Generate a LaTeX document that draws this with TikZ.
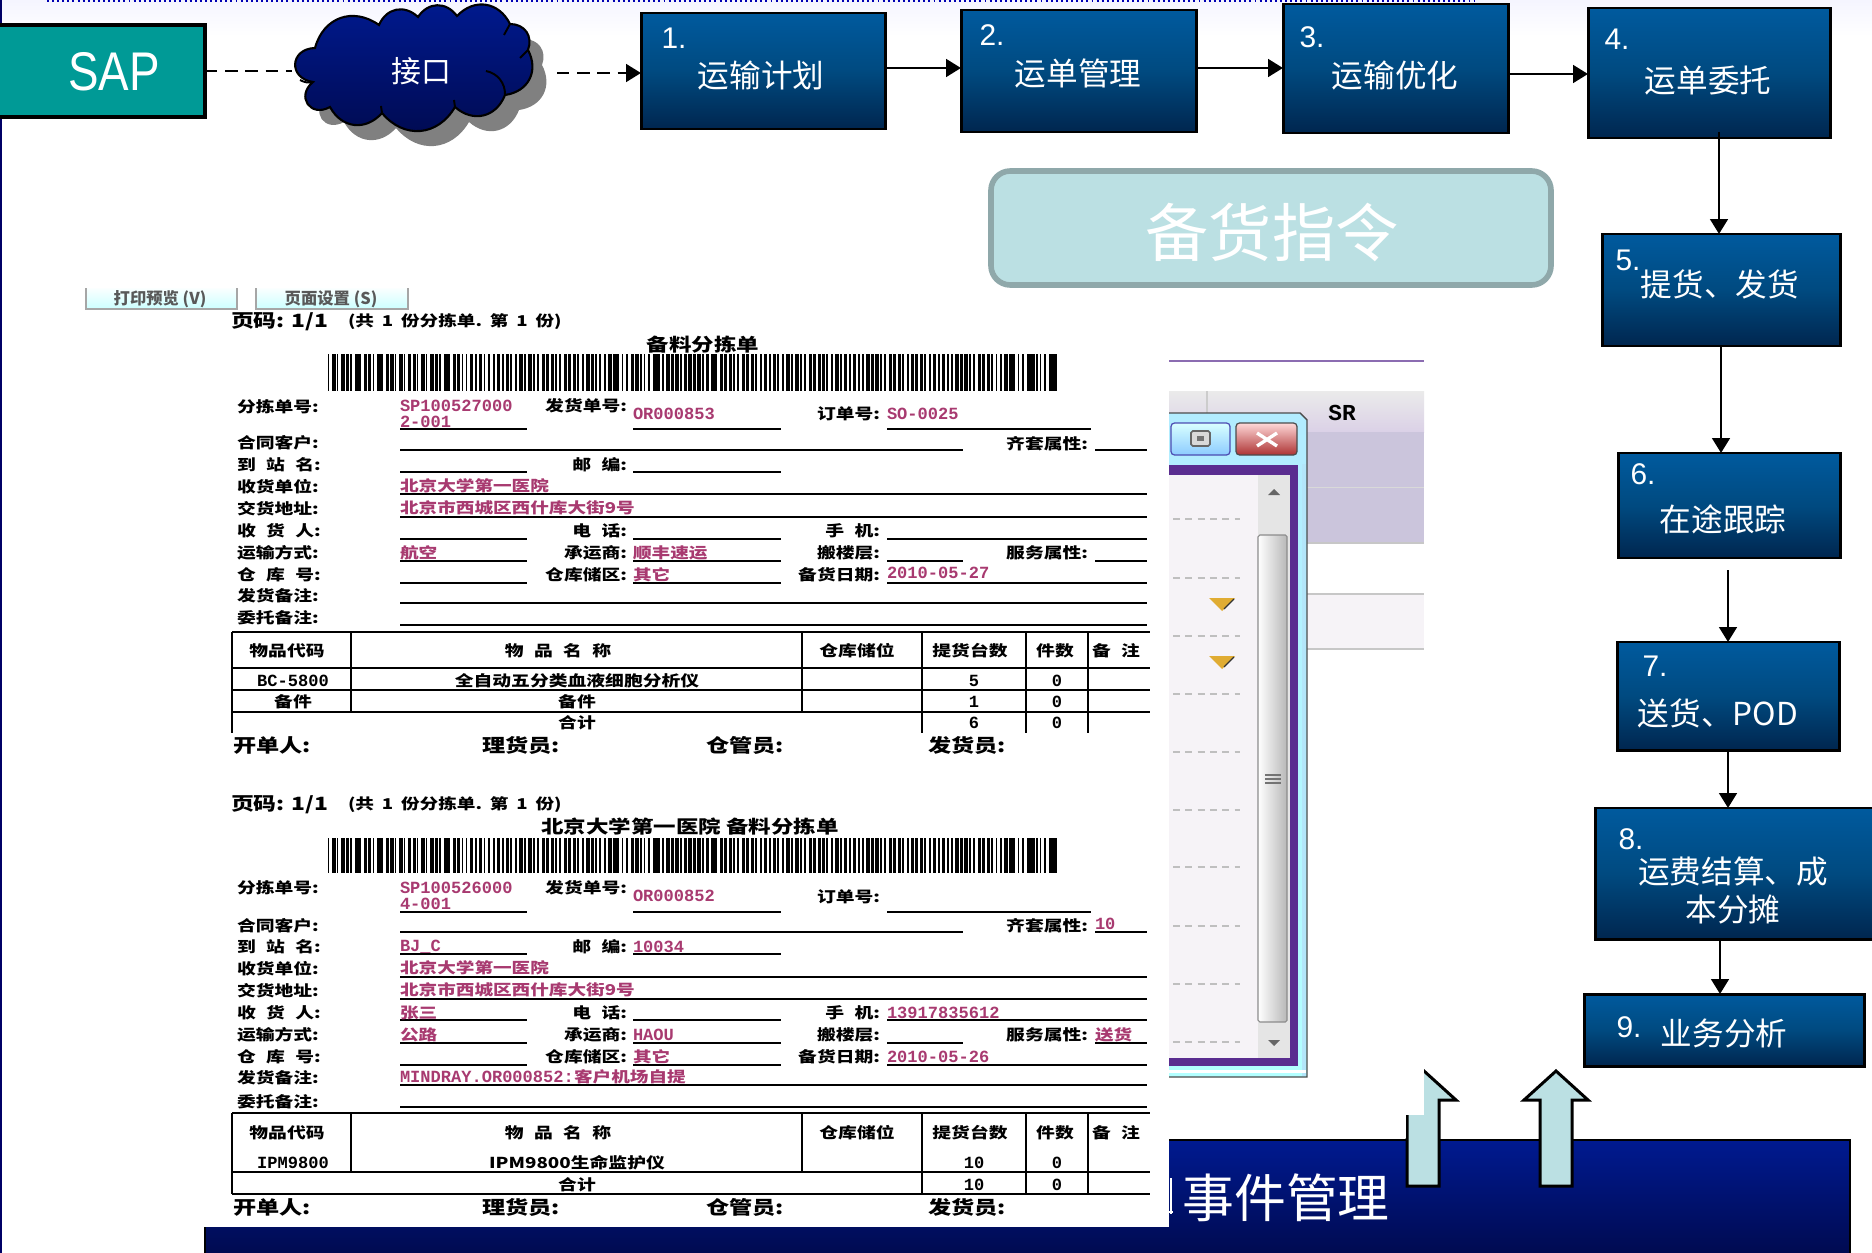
\documentclass[tikz,border=0pt]{standalone}
\usepackage{fontspec}
\usepackage{graphicx}
\setmainfont{Noto Sans CJK SC}
\newfontfamily\latf{Liberation Sans}
\newfontfamily\monof{Liberation Mono}
\usetikzlibrary{arrows.meta}
\definecolor{boxT}{HTML}{005A9E}
\definecolor{boxM}{HTML}{004A80}
\definecolor{boxB}{HTML}{00264F}
\definecolor{navT}{HTML}{001A90}
\definecolor{navB}{HTML}{000A50}
\definecolor{teal1}{HTML}{009A96}
\definecolor{pale}{HTML}{BBE0E3}
\definecolor{paleB}{HTML}{8FA8AA}
\definecolor{valc}{HTML}{A83A70}
\definecolor{lav}{HTML}{CBC5DC}
\definecolor{pan}{HTML}{F6F3F7}
\definecolor{purp}{HTML}{5A2D90}
\newcount\tnum
\newcommand\ksp{\hspace{.55em}}
\newcommand\hsp{\hspace{.42em}}
\newcommand\fntB{\fontsize{18pt}{20pt}\selectfont}
\newcommand\fntN{\latf\fontsize{17pt}{20pt}\selectfont}
\newcommand\fntL{\fontsize{10.7pt}{11pt}\selectfont\bfseries}
\newcommand\fntV{\fontsize{10.6pt}{11pt}\selectfont\bfseries}
\newcommand\fntM{\monof\fontsize{9.7pt}{11pt}\selectfont\bfseries}
\newcommand\fntS{\fontsize{13pt}{14pt}\selectfont\bfseries}
\newcommand\fntT{\fontsize{10.6pt}{12pt}\selectfont\bfseries}
\newcommand\squash[1]{\scalebox{1}[.8]{#1}}
\newcommand\tput[4][]{\global\advance\tnum by 1\relax\node[txt,#1] (t\the\tnum) at (#2,#3) {#4};}
\newcommand\pbox[6][fancy]{\pgfmathsetmacro\wid{(#5-#3-2)*0.02}\pgfmathsetmacro\hei{(#6-#4-2)*0.02}\node[#1,minimum width=\wid cm,minimum height=\hei cm] (#2) at ({(#3+#5)/2},{(#4+#6)/2}) {};}
\newcommand\lblW[3]{\tput[anchor=west,font=\fntL]{#1}{#2}{\squash{#3}}}
\newcommand\lblE[3]{\tput[anchor=east,font=\fntL]{#1}{#2}{\squash{#3}}}
\newcommand\valC[3]{\tput[anchor=west,font=\fntV,text=valc]{#1}{#2}{\squash{#3}}}
\newcommand\valM[3]{\tput[anchor=west,font=\fntM,text=valc]{#1}{#2}{#3}}
\newcommand\cellC[3]{\tput[font=\fntL]{#1}{#2}{\squash{#3}}}
\newcommand\cellM[3]{\tput[font=\fntM]{#1}{#2}{#3}}
\newcommand\uline[3]{\draw[rule] (#2,#1) -- (#3,#1);}
\newcommand\barcode[2]{\foreach \i in {0,...,163}{\pgfmathsetmacro\w{1.4+0.62*mod(mod(\i,37)*mod(\i,29)+3*\i,5)}\fill[black] ({328+4.45*\i},#1) rectangle ({328+4.45*\i+\w},#2);}}
\tikzset{
 txt/.style={inner sep=0pt,outer sep=0pt,text=black},
 fancy/.style={draw=black,line width=1.7pt,top color=boxT,bottom color=boxB,middle color=boxM,inner sep=0pt,outer sep=0pt},
 wl/.style={text=white,font=\fntB},
 wn/.style={text=white,font=\fntN},
 flow/.style={draw=black,line width=1.6pt,-{Triangle[length=8.5pt,width=10pt]}},
 dflow/.style={flow,dash pattern=on 7pt off 4.5pt},
 rule/.style={draw=black,line width=.95pt},
 tb/.style={draw=black,line width=1.05pt},
 uparrow/.style={draw=black,line width=1.7pt,fill=pale,line join=miter},
 cloudb/.style={bend left=55,looseness=1.2},
 cloudw/.style={bend left=85,looseness=1.9},
}
\newcommand\cloudpath{(315,48) to[cloudb] (379,25) to[cloudb] (418,17) to[cloudb] (457,16) to[cloudb] (510,24) to[cloudb] (528,50) to[cloudb] (505,95) to[cloudb] (455,107) to[cloudb] (382,113) to[cloudb] (330,107) to[cloudw] (313,82) to[cloudw] (315,48) -- cycle}
\begin{document}
\begin{tikzpicture}[x=0.02cm,y=-0.02cm]
\useasboundingbox (0,0) rectangle (1872,1253);
\begin{scope}
\clip (0,0) rectangle (1872,1253);
\fill[white] (0,0) rectangle (1872,1253);
\shade[top color=blue!4,bottom color=white] (0,0) rectangle (1872,36);
\draw[blue!70!black,line width=1.2pt,dash pattern=on 1.1pt off 1.8pt] (47,.8) -- (1475,.8);
\fill[black!20!blue!50!black] (0,0) rectangle (2.2,1253);

% event bar
\pbox[draw=black,line width=1.2pt,top color=navT,bottom color=navB,inner sep=0pt,outer sep=0pt]{evbar}{204}{1139}{1851}{1256}
\tput[text=white,font=\fontsize{29.5pt}{32pt}\selectfont]{1286}{1198}{事件管理}
\draw[white,line width=1.4pt] (1171,1178) -- (1171,1214) (1169,1212) -- (1173,1212);

% up arrows
\draw[uparrow] (1407,1186) -- (1407,1100) -- (1391,1100) -- (1424,1071) -- (1456,1100) -- (1439,1100) -- (1439,1186) -- cycle;
\draw[uparrow] (1540,1186) -- (1540,1100) -- (1524,1100) -- (1556,1071) -- (1588,1100) -- (1572,1100) -- (1572,1186) -- cycle;
\fill[white] (1309,1060) rectangle (1424,1115);
\fill[white] (1309,1115) rectangle (1406,1138);

% purple table behind window
\draw[draw=purp!70!white,line width=1.2pt] (1169,361) -- (1424,361);
\shade[top color=black!8!white,bottom color=purp!22!white] (1169,391) rectangle (1424,432);
\draw[black!20,line width=.8pt] (1207,391) -- (1207,432);
\fill[lav] (1169,432) rectangle (1424,543);
\draw[white!85!black,line width=.5pt] (1169,487) -- (1424,487);
\fill[white] (1169,543) rectangle (1424,594);
\fill[pan] (1169,594) rectangle (1424,649);
\draw[black!22,line width=.8pt] (1169,543) -- (1424,543) (1169,594) -- (1424,594) (1169,649) -- (1424,649);
\tput[font=\monof\bfseries\fontsize{13pt}{14pt}\selectfont]{1342}{413}{SR}

% window
\shade[top color=blue!25!cyan!30!white,bottom color=cyan!30!white,draw=black!70,line width=.8pt] (1150,413) -- (1300,413) -- (1307,420) -- (1307,1077) -- (1150,1077) -- cycle;
\fill[white!70!cyan] (1302,464) rectangle (1306,1076);
\fill[white] (1150,1070) rectangle (1306,1073);
\fill[purp] (1150,465) rectangle (1298,1066);
\fill[pan] (1150,475) rectangle (1290,1058);
\fill[white!90!black] (1258,475) rectangle (1290,1058);
\shade[left color=white,right color=black!28,draw=black!45,line width=.6pt,rounded corners=1pt] (1258,535) rectangle (1287,1022);
\draw[black!55,line width=.8pt] (1265,775) -- (1281,775) (1265,779) -- (1281,779) (1265,783) -- (1281,783);
\fill[black!60] (1268,495) -- (1274,489) -- (1280,495) -- cycle;
\fill[black!60] (1268,1040) -- (1274,1046) -- (1280,1040) -- cycle;
\foreach \yy in {519,578,636,694,752,810,867,926,984,1042}{\draw[black!25,line width=.8pt,dash pattern=on 4pt off 3pt] (1173,\yy) -- (1240,\yy);}
\foreach \yy in {598,656}{\fill[orange!60!yellow!85!black!80] (1209,\yy) -- (1235,\yy) -- (1222,\yy+13) -- cycle;\draw[black!80,line width=.7pt] (1224,\yy+11) -- (1234,\yy+1);}
\shade[top color=cyan!15!white,bottom color=blue!45!cyan!45!white,draw=blue!40!gray,line width=.7pt,rounded corners=2pt] (1171,423) rectangle (1230,455);
\draw[black!60,fill=black!15,line width=.9pt,rounded corners=1pt] (1191,431) rectangle (1210,446);
\fill[black!55] (1197,436) rectangle (1204,441);
\shade[top color=red!15!white,middle color=red!65!black,bottom color=red!60!black!80,draw=black!70,line width=.7pt,rounded corners=2pt] (1236,423) rectangle (1297,455);
\draw[white,line width=1.9pt] (1257,433) -- (1277,446) (1257,446) -- (1277,433);

% white paper
\fill[white] (200,288) rectangle (1169,1227);

% buttons
\pbox[draw=black!35,line width=.8pt,top color=white,bottom color=cyan!20!white,inner sep=0pt,outer sep=0pt]{pb1}{85}{285}{238}{310}
\pbox[draw=black!35,line width=.8pt,top color=white,bottom color=cyan!20!white,inner sep=0pt,outer sep=0pt]{pb2}{255}{285}{409}{310}
\fill[white] (80,282) rectangle (415,288);
\tput[text=black!65,font=\fontsize{9.3pt}{10pt}\selectfont\bfseries]{160}{299}{打印预览 (V)}
\tput[text=black!65,font=\fontsize{9.3pt}{10pt}\selectfont\bfseries]{331}{299}{页面设置 (S)}

% ---------- document 1
\tput[anchor=west,font=\fntS]{231}{322}{\squash{页码: 1/1}}
\tput[anchor=west,font=\fntT]{348}{322}{\squash{(共\hsp 1\hsp 份分拣单.\hsp 第\hsp 1\hsp 份)}}
\tput[font=\fontsize{12.8pt}{14pt}\selectfont\bfseries]{703}{345}{\squash{备料分拣单}}
\barcode{354}{391}
\foreach \a/\b/\c in {429/400/527,429/633/781,429/887/1091,450/400/963,450/1095/1147,472/400/527,472/633/781,494/400/1147,517/400/1147,539/400/527,539/633/781,539/887/1147,561/400/527,561/633/781,561/887/963,561/1095/1147,583/400/527,583/633/781,583/887/1147,603/400/1147,625/400/1147}{\uline{\a}{\b}{\c}}
\lblW{237}{407}{分拣单号:}\lblW{237}{443}{合同客户:}\lblW{237}{465}{到\ksp 站\ksp 名:}\lblW{237}{487}{收货单位:}\lblW{237}{509}{交货地址:}\lblW{237}{531}{收\ksp 货\ksp 人:}\lblW{237}{553}{运输方式:}\lblW{237}{575}{仓\ksp 库\ksp 号:}\lblW{237}{596}{发货备注:}\lblW{237}{618}{委托备注:}
\lblE{627}{406}{发货单号:}\lblE{627}{465}{邮\ksp 编:}\lblE{627}{531}{电\ksp 话:}\lblE{627}{553}{承运商:}\lblE{627}{575}{仓库储区:}
\lblE{880}{414}{订单号:}\lblE{880}{531}{手\ksp 机:}\lblE{880}{553}{搬楼层:}\lblE{880}{575}{备货日期:}
\lblE{1088}{444}{齐套属性:}\lblE{1088}{553}{服务属性:}
\valM{400}{406}{SP100527000}\valM{400}{422}{2-001}\valM{633}{414}{OR000853}\valM{887}{414}{SO-0025}
\valC{400}{486}{北京大学第一医院}\valC{400}{508}{北京市西城区西什库大街9号}\valC{400}{553}{航空}\valC{633}{553}{顺丰速运}\valC{633}{575}{其它}\valM{887}{573}{2010-05-27}
% table 1
\draw[tb] (232,632) -- (1150,632) (232,668) -- (1150,668) (232,690) -- (1150,690) (232,712) -- (1150,712);
\draw[tb] (232,632) -- (232,733) (351,632) -- (351,712) (802,632) -- (802,712) (922,632) -- (922,733) (1026,632) -- (1026,733) (1088,632) -- (1088,733);
\cellC{287}{651}{物品代码}\cellC{558}{651}{物\ksp 品\ksp 名\ksp 称}\cellC{857}{651}{仓库储位}\cellC{970}{651}{提货台数}\cellC{1055}{651}{件数}\cellC{1116}{651}{备\ksp 注}
\cellM{293}{681}{BC-5800}\cellC{577}{681}{全自动五分类血液细胞分析仪}\cellM{974}{681}{5}\cellM{1057}{681}{0}
\cellC{293}{702}{备件}\cellC{577}{702}{备件}\cellM{974}{702}{1}\cellM{1057}{702}{0}
\cellC{577}{723}{合计}\cellM{974}{723}{6}\cellM{1057}{723}{0}
\foreach \xx/\ss in {233/开单人:,482/理货员:,706/仓管员:,928/发货员:}{\tput[anchor=west,font=\fontsize{13.2pt}{14pt}\selectfont\bfseries]{\xx}{745}{\squash{\ss}}}

% ---------- document 2
\tput[anchor=west,font=\fntS]{231}{805}{\squash{页码: 1/1}}
\tput[anchor=west,font=\fntT]{348}{805}{\squash{(共\hsp 1\hsp 份分拣单.\hsp 第\hsp 1\hsp 份)}}
\tput[font=\fontsize{12.8pt}{14pt}\selectfont\bfseries]{690}{827}{\squash{北京大学第一医院 备料分拣单}}
\barcode{838}{873}
\foreach \a/\b/\c in {912/400/527,912/633/781,912/887/1091,932/400/963,932/1095/1147,954/400/527,954/633/781,977/400/1147,999/400/1147,1020/400/527,1020/633/781,1020/887/1147,1043/400/527,1043/633/781,1043/887/963,1043/1095/1147,1065/400/527,1065/633/781,1065/887/1147,1085/400/1147,1107/400/1147}{\uline{\a}{\b}{\c}}
\lblW{237}{888}{分拣单号:}\lblW{237}{926}{合同客户:}\lblW{237}{947}{到\ksp 站\ksp 名:}\lblW{237}{969}{收货单位:}\lblW{237}{991}{交货地址:}\lblW{237}{1013}{收\ksp 货\ksp 人:}\lblW{237}{1035}{运输方式:}\lblW{237}{1057}{仓\ksp 库\ksp 号:}\lblW{237}{1078}{发货备注:}\lblW{237}{1102}{委托备注:}
\lblE{627}{888}{发货单号:}\lblE{627}{947}{邮\ksp 编:}\lblE{627}{1013}{电\ksp 话:}\lblE{627}{1035}{承运商:}\lblE{627}{1057}{仓库储区:}
\lblE{880}{897}{订单号:}\lblE{880}{1013}{手\ksp 机:}\lblE{880}{1035}{搬楼层:}\lblE{880}{1057}{备货日期:}
\lblE{1088}{926}{齐套属性:}\lblE{1088}{1035}{服务属性:}
\valM{400}{888}{SP100526000}\valM{400}{904}{4-001}\valM{633}{896}{OR000852}\valM{1095}{924}{10}
\valM{400}{947}{BJ\_C}\valM{633}{947}{10034}
\valC{400}{968}{北京大学第一医院}\valC{400}{990}{北京市西城区西什库大街9号}\valC{400}{1013}{张三}\valM{887}{1013}{13917835612}
\valC{400}{1035}{公路}\valM{633}{1035}{HAOU}\valC{1095}{1035}{送货}\valC{633}{1057}{其它}\valM{887}{1057}{2010-05-26}
\valM{400}{1077}{MINDRAY.OR000852:}\valC{574}{1077}{客户机场自提}
% table 2
\draw[tb] (232,1113) -- (1150,1113) (232,1172) -- (1150,1172) (232,1194) -- (1150,1194);
\draw[tb] (232,1113) -- (232,1194) (351,1113) -- (351,1172) (802,1113) -- (802,1172) (922,1113) -- (922,1194) (1026,1113) -- (1026,1194) (1088,1113) -- (1088,1194);
\cellC{287}{1133}{物品代码}\cellC{558}{1133}{物\ksp 品\ksp 名\ksp 称}\cellC{857}{1133}{仓库储位}\cellC{970}{1133}{提货台数}\cellC{1055}{1133}{件数}\cellC{1116}{1133}{备\ksp 注}
\cellM{293}{1163}{IPM9800}\cellC{577}{1163}{IPM9800生命监护仪}\cellM{974}{1163}{10}\cellM{1057}{1163}{0}
\cellC{577}{1185}{合计}\cellM{974}{1185}{10}\cellM{1057}{1185}{0}
\foreach \xx/\ss in {233/开单人:,482/理货员:,706/仓管员:,928/发货员:}{\tput[anchor=west,font=\fontsize{13.2pt}{14pt}\selectfont\bfseries]{\xx}{1207}{\squash{\ss}}}

% ---------- top flow
\pbox[draw=black,line width=1.9pt,fill=teal1,inner sep=0pt,outer sep=0pt]{sap}{-3}{24}{206}{118}
\tput[text=white,font=\latf\fontsize{31pt}{34pt}\selectfont]{114}{72}{\scalebox{.84}[1]{SAP}}
\fill[black!50,shift={(14,15)}] \cloudpath;
\path[draw=black,line width=1.2pt,top color=navT,bottom color=navB] \cloudpath;
\draw[black,line width=1.1pt] (486,71) to[bend left=40] (505,95) (313,82) to[bend left=20] (300,80);
\draw[black,line width=1.1pt] (455,107) -- (454,100) (382,113) -- (381,106) (510,24) -- (504,35) (528,50) -- (520,58);
\coordinate (cloudL) at (292,71);
\coordinate (cloudR) at (557,73);
\tput[text=white,font=\fontsize{17pt}{20pt}\selectfont]{421}{71}{接口}

\pbox{b1}{640}{12}{886}{130}
\pbox{b2}{960}{9}{1197}{133}
\pbox{b3}{1282}{3}{1509}{134}
\pbox{b4}{1587}{7}{1831}{139}
\pbox{b5}{1601}{233}{1841}{347}
\pbox{b6}{1617}{452}{1841}{559}
\pbox{b7}{1616}{641}{1840}{751}
\pbox{b8}{1594}{807}{1876}{940}
\pbox{b9}{1583}{993}{1865}{1067}

\tput[wn]{674}{38}{1.}\tput[wl]{761}{76}{运输计划}
\tput[wn]{992}{35}{2.}\tput[wl]{1078}{73}{运单管理}
\tput[wn]{1312}{37}{3.}\tput[wl]{1395}{76}{运输优化}
\tput[wn]{1617}{39}{4.}\tput[wl]{1708}{81}{运单委托}
\tput[wn]{1628}{260}{5.}\tput[wl]{1720}{284}{提货、发货}
\tput[wn]{1643}{474}{6.}\tput[wl]{1723}{519}{在途跟踪}
\tput[wn]{1655}{666}{7.}\tput[wl]{1718}{713}{送货、POD}
\tput[wn]{1631}{839}{8.}\tput[wl]{1733}{872}{运费结算、成}\tput[wl]{1733}{909}{本分摊}
\tput[wn]{1629}{1027}{9.}\tput[wl]{1724}{1034}{业务分析}

\coordinate (c4s) at (1719,132);
\coordinate (c6s) at (1728,570);
\draw[dash pattern=on 7pt off 4.5pt,draw=black,line width=1.6pt] (sap.east |- cloudL) -- (cloudL);
\draw[dflow] (cloudR) -- (b1.west |- cloudR);
\draw[flow] (b1.east |- 0,68) -- (b2.west |- 0,68);
\draw[flow] (b2.east |- 0,68) -- (b3.west |- 0,68);
\draw[flow] (b3.east |- 0,74) -- (b4.west |- 0,74);
\draw[flow] (c4s) -- (c4s |- b5.north);
\draw[flow] (b5.south -| 1721,0) -- (b6.north -| 1721,0);
\draw[flow] (c6s) -- (c6s |- b7.north);
\draw[flow] (b7.south -| 1728,0) -- (b8.north -| 1728,0);
\draw[flow] (b8.south -| 1720,0) -- (b9.north -| 1720,0);

% callout
\pbox[draw=paleB,line width=3.2pt,fill=pale,rounded corners=11pt,inner sep=0pt,outer sep=0pt]{cmd}{990}{170}{1552}{286}
\tput[text=white,font=\fontsize{36pt}{38pt}\selectfont]{1272}{232}{备货指令}
\end{scope}
\end{tikzpicture}
\end{document}
